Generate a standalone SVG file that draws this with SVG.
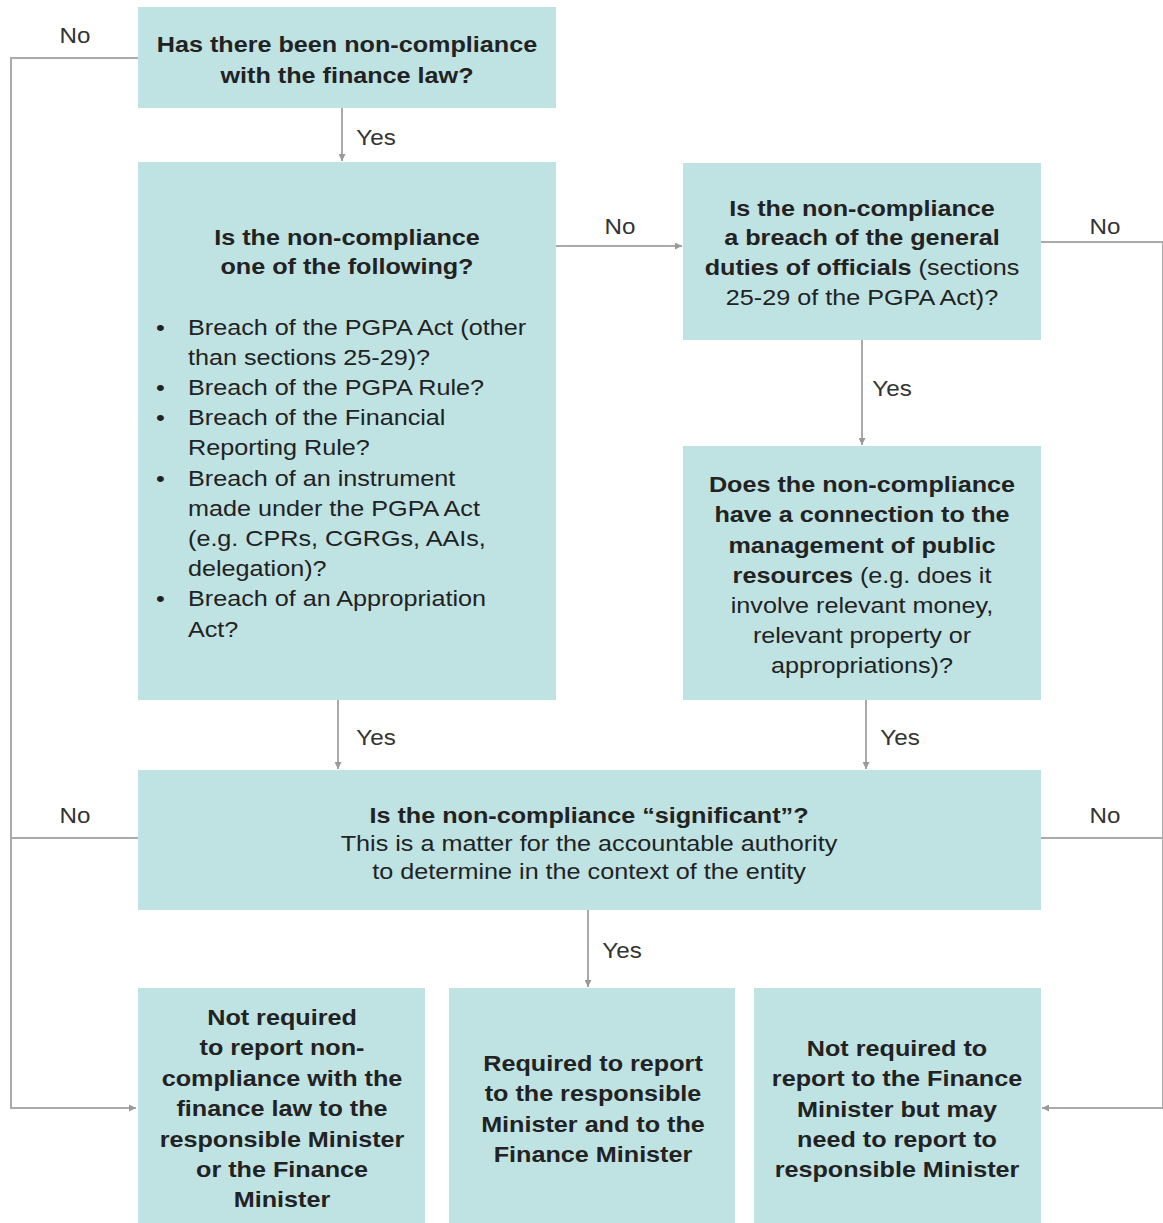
<svg xmlns="http://www.w3.org/2000/svg" width="1163" height="1223" viewBox="0 0 1163 1223">
<style>
.box{fill:#bfe3e3}
.t{font-family:"Liberation Sans",Arial,sans-serif;font-size:22px;fill:#222}
.c{text-anchor:middle}
.b{font-weight:bold}
.lbl{font-family:"Liberation Sans",Arial,sans-serif;font-size:22px;fill:#333;text-anchor:middle}
.ln{stroke:#aaaaaa;stroke-width:2;fill:none}
</style>
<defs>
<marker id="ah" viewBox="0 0 10 10" refX="10" refY="5" markerWidth="7" markerHeight="7" markerUnits="userSpaceOnUse" orient="auto">
<path d="M0,0 L10,5 L0,10 z" fill="#999"/>
</marker>
</defs>
<rect width="1163" height="1223" fill="#fff"/>
<g id="connectors">
<path class="ln" d="M138,58 H11 V1108 H136" marker-end="url(#ah)"/>
<path class="ln" d="M342,108 V161" marker-end="url(#ah)"/>
<path class="ln" d="M556,246 H682" marker-end="url(#ah)"/>
<path class="ln" d="M1041,242 H1163 V1108 H1042" marker-end="url(#ah)"/>
<path class="ln" d="M862,340 V445" marker-end="url(#ah)"/>
<path class="ln" d="M338,700 V769" marker-end="url(#ah)"/>
<path class="ln" d="M866,700 V769" marker-end="url(#ah)"/>
<path class="ln" d="M138,838 H11"/>
<path class="ln" d="M1041,838 H1163"/>
<path class="ln" d="M588,910 V987" marker-end="url(#ah)"/>
<g transform="translate(75,0) scale(1.1,1)"><text class="lbl" x="0" y="43">No</text></g>
<g transform="translate(376,0) scale(1.1,1)"><text class="lbl" x="0" y="145">Yes</text></g>
<g transform="translate(620,0) scale(1.1,1)"><text class="lbl" x="0" y="234">No</text></g>
<g transform="translate(1105,0) scale(1.1,1)"><text class="lbl" x="0" y="234">No</text></g>
<g transform="translate(892,0) scale(1.1,1)"><text class="lbl" x="0" y="396">Yes</text></g>
<g transform="translate(376,0) scale(1.1,1)"><text class="lbl" x="0" y="745">Yes</text></g>
<g transform="translate(900,0) scale(1.1,1)"><text class="lbl" x="0" y="745">Yes</text></g>
<g transform="translate(75,0) scale(1.1,1)"><text class="lbl" x="0" y="823">No</text></g>
<g transform="translate(1105,0) scale(1.1,1)"><text class="lbl" x="0" y="823">No</text></g>
<g transform="translate(622,0) scale(1.1,1)"><text class="lbl" x="0" y="958">Yes</text></g>
</g>
<g id="n1">
<rect class="box" x="138" y="7" width="418" height="101"/>
<g transform="translate(347,0) scale(1.145,1)">
<text class="t c b" x="0" y="52">Has there been non-compliance</text>
<text class="t c b" x="0" y="83">with the finance law?</text>
</g>
</g>
<g id="n2">
<rect class="box" x="138" y="162" width="418" height="538"/>
<g transform="translate(347,0) scale(1.145,1)">
<text class="t c b" x="0" y="245">Is the non-compliance</text>
<text class="t c b" x="0" y="274">one of the following?</text>
</g>
<g class="t" transform="translate(188,0) scale(1.145,1)">
<text x="-28" y="335">•</text><text x="0" y="335">Breach of the PGPA Act (other</text>
<text x="0" y="365">than sections 25-29)?</text>
<text x="-28" y="395">•</text><text x="0" y="395">Breach of the PGPA Rule?</text>
<text x="-28" y="425">•</text><text x="0" y="425">Breach of the Financial</text>
<text x="0" y="455">Reporting Rule?</text>
<text x="-28" y="486">•</text><text x="0" y="486">Breach of an instrument</text>
<text x="0" y="516">made under the PGPA Act</text>
<text x="0" y="546">(e.g. CPRs, CGRGs, AAIs,</text>
<text x="0" y="576">delegation)?</text>
<text x="-28" y="606">•</text><text x="0" y="606">Breach of an Appropriation</text>
<text x="0" y="637">Act?</text>
</g>
</g>
<g id="n3">
<rect class="box" x="683" y="163" width="358" height="177"/>
<g transform="translate(862,0) scale(1.145,1)">
<text class="t c b" x="0" y="216">Is the non-compliance</text>
<text class="t c b" x="0" y="245">a breach of the general</text>
<text class="t c" x="0" y="275"><tspan class="b">duties of officials</tspan> (sections</text>
<text class="t c" x="0" y="305">25-29 of the PGPA Act)?</text>
</g>
</g>
<g id="n4">
<rect class="box" x="683" y="446" width="358" height="254"/>
<g transform="translate(862,0) scale(1.145,1)">
<text class="t c b" x="0" y="492">Does the non-compliance</text>
<text class="t c b" x="0" y="522">have a connection to the</text>
<text class="t c b" x="0" y="553">management of public</text>
<text class="t c" x="0" y="583"><tspan class="b">resources</tspan> (e.g. does it</text>
<text class="t c" x="0" y="613">involve relevant money,</text>
<text class="t c" x="0" y="643">relevant property or</text>
<text class="t c" x="0" y="673">appropriations)?</text>
</g>
</g>
<g id="n5">
<rect class="box" x="138" y="770" width="903" height="140"/>
<g transform="translate(589,0) scale(1.145,1)">
<text class="t c b" x="0" y="823">Is the non-compliance “significant”?</text>
<text class="t c" x="0" y="851">This is a matter for the accountable authority</text>
<text class="t c" x="0" y="879">to determine in the context of the entity</text>
</g>
</g>
<g id="n6">
<rect class="box" x="138" y="988" width="287" height="235"/>
<g transform="translate(282,0) scale(1.145,1)">
<text class="t c b" x="0" y="1025">Not required</text>
<text class="t c b" x="0" y="1055">to report non-</text>
<text class="t c b" x="0" y="1086">compliance with the</text>
<text class="t c b" x="0" y="1116">finance law to the</text>
<text class="t c b" x="0" y="1147">responsible Minister</text>
<text class="t c b" x="0" y="1177">or the Finance</text>
<text class="t c b" x="0" y="1207">Minister</text>
</g>
</g>
<g id="n7">
<rect class="box" x="449" y="988" width="286" height="235"/>
<g transform="translate(593,0) scale(1.145,1)">
<text class="t c b" x="0" y="1071">Required to report</text>
<text class="t c b" x="0" y="1101">to the responsible</text>
<text class="t c b" x="0" y="1132">Minister and to the</text>
<text class="t c b" x="0" y="1162">Finance Minister</text>
</g>
</g>
<g id="n8">
<rect class="box" x="754" y="988" width="287" height="235"/>
<g transform="translate(897,0) scale(1.145,1)">
<text class="t c b" x="0" y="1056">Not required to</text>
<text class="t c b" x="0" y="1086">report to the Finance</text>
<text class="t c b" x="0" y="1117">Minister but may</text>
<text class="t c b" x="0" y="1147">need to report to</text>
<text class="t c b" x="0" y="1177">responsible Minister</text>
</g>
</g>
</svg>
